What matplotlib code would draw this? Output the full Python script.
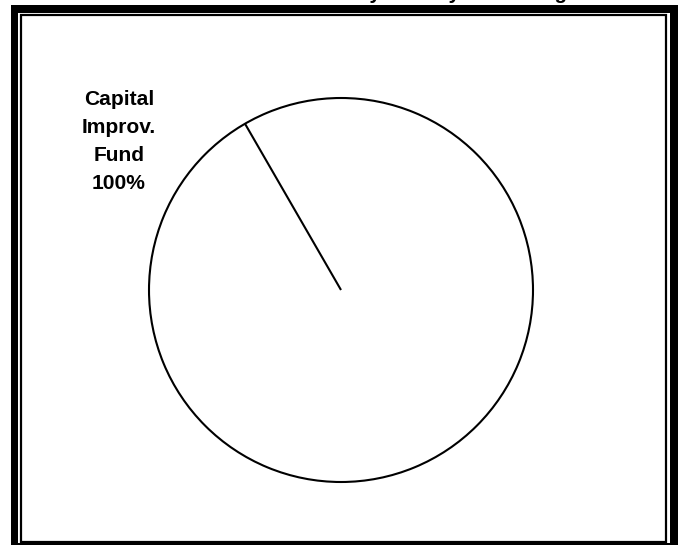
import matplotlib
matplotlib.use("Agg")
import matplotlib.pyplot as plt
import numpy as np
from matplotlib.patches import Rectangle

# ---- data ----
categories = ["Capital\nImprov.\nFund"]
values = [100]
title = "Total Revenue Sources by Activity & Funding"

W, H = 678, 545
plt.rcParams['font.family'] = ['Liberation Sans', 'DejaVu Sans']

fig = plt.figure(figsize=(W / 100, H / 100), dpi=100)
fig.patch.set_facecolor("white")


def px_rect(x0, y0, x1, y1, **kw):
    """Rectangle given in top-left pixel coords, added to the figure."""
    r = Rectangle((x0 / W, 1 - y1 / H), (x1 - x0) / W, (y1 - y0) / H,
                  transform=fig.transFigure, **kw)
    fig.add_artist(r)
    return r


# outer thick frame (black), white gap, thin inner line
px_rect(11, 4.5, W + 20, H + 20, facecolor="black", edgecolor="none", zorder=-3)
px_rect(18, 12.5, 669.5, 543, facecolor="white", edgecolor="none", zorder=-2)
px_rect(21, 15, 666, 541.5, facecolor="none", edgecolor="black",
        linewidth=1.6, zorder=-1)

ax = fig.add_axes([0, 0, 1, 1])
ax.set_facecolor("none")
ax.patch.set_alpha(0)

cx, cy_top, radius = 341, 290, 192
start = 120
center = (cx, H - cy_top)
ax.pie(values, center=center, radius=radius, startangle=start,
       counterclock=True,
       wedgeprops=dict(facecolor="white", edgecolor="black", linewidth=1.5))

# slice boundaries (a single 100% wedge has one radial edge at the start angle)
total = sum(values)
bound = start
for v in values:
    th = np.deg2rad(bound)
    ax.plot([center[0], center[0] + radius * np.cos(th)],
            [center[1], center[1] + radius * np.sin(th)],
            color="black", linewidth=1.5, solid_capstyle="butt", zorder=3)
    bound += v / total * 360

ax.set_xlim(0, W)
ax.set_ylim(0, H)
ax.set_aspect("equal")
ax.axis("off")

# slice label
label_lines = categories[0].split("\n") + [f"{values[0] / total * 100:.0f}%"]
base = 105
for i, line in enumerate(label_lines):
    ax.text(119, H - (base + 28 * i), line, ha="center", va="baseline",
            fontsize=15.1, fontweight="bold", color="black")

# title (cut off at the top edge, as in the reference)
fig.text(126 / W, 1 + 1.0 / H, title, ha="left", va="baseline",
         fontsize=14.8, fontweight="bold", color="black", zorder=5)

fig.savefig("out.png", dpi=100, facecolor="white")
